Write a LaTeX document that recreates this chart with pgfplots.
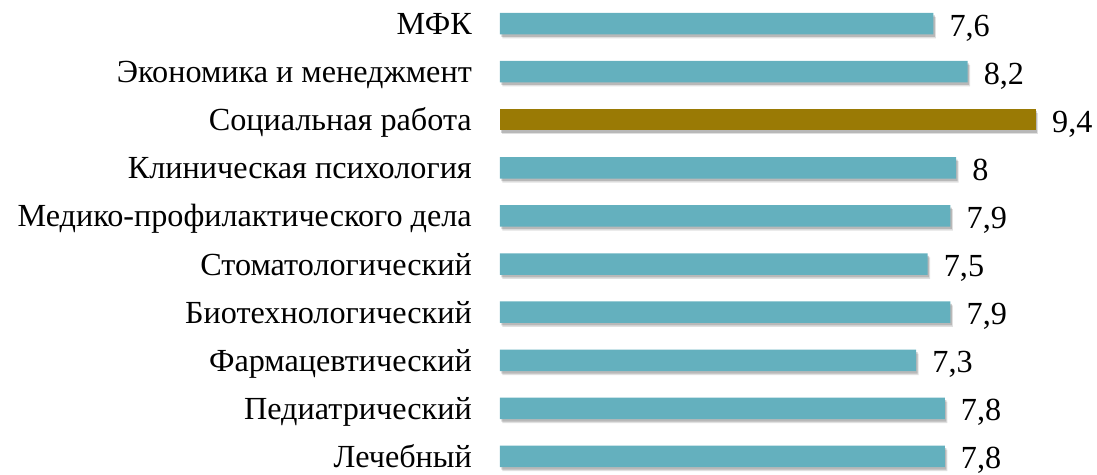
\documentclass[border=0pt]{standalone}
\usepackage{pgfplots}
\pgfplotsset{compat=1.18}
\usepackage{fontspec}
\setmainfont{Liberation Serif}
\definecolor{barteal}{HTML}{64B0BE}
\definecolor{bargold}{HTML}{9A7A05}

\begin{document}
\begin{tikzpicture}
\begin{axis}[
    scale only axis,
    width=597pt, height=474pt,
    xmin=0, xmax=10.47,
    ymin=-0.364, ymax=9.489,
    axis line style={draw=none},
    major tick length=0pt,
    clip=false,
    xbar, bar width=21.5pt, bar shift=0pt,
    ytick={0,...,9},
    yticklabels={Лечебный,Педиатрический,Фармацевтический,Биотехнологический,Стоматологический,Медико-профилактического дела,Клиническая психология,Социальная работа,Экономика и менеджмент,МФК},
    yticklabel style={font=\fontsize{32.2}{36}\selectfont, anchor=base east,
        inner sep=0pt, xshift=-28pt, yshift=-11pt},
    xtick=\empty,
    nodes near coords,
    nodes near coords style={font=\fontsize{32.2}{36}\selectfont, anchor=base west,
        inner sep=0pt, xshift=16pt, yshift=-12.5pt},
    /pgf/number format/.cd, use comma, fixed, precision=1, assume math mode=true,
]
\addplot[draw=none, fill=barteal,
    preaction={fill=black, opacity=0.12, transform canvas={xshift=2.5pt, yshift=-4pt}},
    preaction={fill=black, opacity=0.18, transform canvas={xshift=1.5pt, yshift=-2.5pt}}]
    coordinates {
    (7.8,0) (7.8,1) (7.3,2) (7.9,3) (7.5,4) (7.9,5) (8,6) (8.2,8) (7.6,9)
    };
\addplot[draw=none, fill=bargold,
    preaction={fill=black, opacity=0.12, transform canvas={xshift=2.5pt, yshift=-4pt}},
    preaction={fill=black, opacity=0.18, transform canvas={xshift=1.5pt, yshift=-2.5pt}}]
    coordinates {(9.4,7)};
\end{axis}
\pgfresetboundingbox
\path[use as bounding box] (-500pt,0pt) rectangle (597pt,474pt);
\end{tikzpicture}
\end{document}
